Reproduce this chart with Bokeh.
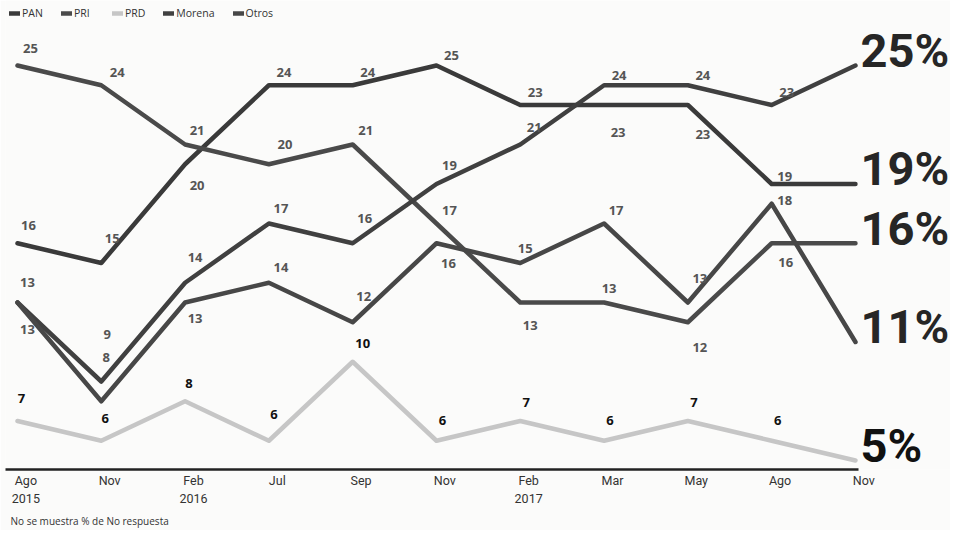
from bokeh.plotting import figure
from bokeh.models import (ColumnDataSource, FixedTicker, Legend, LegendItem, Title, Range1d,
                          LinearAxis)
from bokeh.core.properties import value
from bokeh.embed import file_html
from bokeh.resources import INLINE

# ---- data ----
months = ["Ago\n2015", "Nov", "Feb\n2016", "Jul", "Sep", "Nov", "Feb\n2017", "Mar", "May", "Ago", "Nov"]
pan = [16, 15, 20, 24, 24, 25, 23, 23, 23, 19, 19]
pri = [25, 24, 21, 20, 21, 17, 13, 13, 12, 16, 16]
prd = [7, 6, 8, 6, 10, 6, 7, 6, 7, 6, 5]
morena = [13, 9, 14, 17, 16, 19, 21, 24, 24, 23, 25]
otros = [13, 8, 13, 14, 12, 16, 15, 17, 13, 18, 11]
series_names = ["PAN", "PRI", "PRD", "Morena", "Otros"]
footnote = "No se muestra % de No respuesta"

# ---- styles (label offsets in screen px) ----
colors = {"PAN": "#3a3a3a", "PRI": "#4a4a4a", "PRD": "#c6c6c6", "Morena": "#404040", "Otros": "#474747"}
label_dx = {
    "PAN": [11, 11, 12, 15, 15, 15, 15, 14, 15, 13],
    "PRI": [13, 16, 12, 16, 13, 13, 10, 5, 12, 14],
    "PRD": [4, 4, 4, 5, 10, 6, 6, 6, 6, 6],
    "Morena": [10, 6, 10, 12, 12, 13, 14, 15, 15, 15],
    "Otros": [10, 5, 10, 12, 11, 12, 5, 12, 12, 13],
}
label_dy = {
    "PAN": [-18, -24, 21, -13, -13, -10, -12, 28, 30, -7],
    "PRI": [-17, -13, -14, -20, -14, -13, 23, -14, 25, 19],
    "PRD": [-22, -22, -18, -26, -18, -20, -18, -20, -18, -20],
    "Morena": [-20, -47, -25, -15, -25, -18, -17, -10, -10, -12],
    "Otros": [27, -44, 16, -15, -26, 20, -14, -13, -24, -3],
}

data = {"PAN": pan, "PRI": pri, "PRD": prd, "Morena": morena, "Otros": otros}
x = list(range(len(months)))

X0, X1 = -0.143, 11.134
SHIFT = 0.1  # tick labels start at the month position (left-aligned look)
p = figure(frame_width=945, frame_height=469, output_backend="svg", toolbar_location=None,
           x_range=Range1d(X0, X1), y_range=Range1d(4.544, 28.291),
           x_axis_location=None, y_axis_location=None,
           min_border_left=5, min_border_right=0, min_border_top=0, min_border_bottom=10,
           background_fill_color="#fbfbfa", border_fill_color="#fbfbfa",
           outline_line_color=None)
p.grid.visible = False
p.extra_x_ranges = {"lab": Range1d(X0 - SHIFT, X1 - SHIFT)}

items = []
for name in series_names:
    vals = data[name]
    r = p.line(x, vals, line_width=4.5, line_color=colors[name], line_join="round", line_cap="round")
    items.append(LegendItem(label=name, renderers=[r]))

for name in series_names:
    vals = data[name]
    src = ColumnDataSource(dict(x=x[:-1], y=vals[:-1], t=[str(v) for v in vals[:-1]],
                                dx=label_dx[name], dy=label_dy[name]))
    is_prd = name == "PRD"
    p.text(x="x", y="y", text="t", x_offset="dx", y_offset="dy", source=src,
           text_align="center", text_baseline="middle",
           text_font=value("Open Sans"), text_font_style="bold", text_font_size="13px",
           text_color="#111111" if is_prd else "#555555")

end_src = ColumnDataSource(dict(
    x=[x[-1]] * len(series_names),
    y=[data[n][-1] for n in series_names],
    t=[f"{data[n][-1]}%" for n in series_names],
    c=["#111111" if n == "PRD" else "#262626" for n in series_names],
))
p.text(x="x", y="y", text="t", source=end_src, x_offset=5, y_offset=-15,
       text_align="left", text_baseline="alphabetic",
       text_font=value("Roboto"), text_font_style="bold",
       text_font_size="47px", text_color="c")

legend = Legend(items=items, orientation="horizontal", location=(4, 449),
                label_text_font="Open Sans", label_text_font_size="10.5px",
                label_text_color="#333333", glyph_width=11, glyph_height=8,
                label_standoff=2, spacing=18, padding=0, margin=0,
                border_line_color=None, background_fill_alpha=0)
p.add_layout(legend)

ax = LinearAxis(x_range_name="lab")
ax.ticker = FixedTicker(ticks=x)
ax.bounds = (X0 - SHIFT, x[-1] + 0.036 - SHIFT)
ax.major_label_overrides = {i: m for i, m in zip(x, months)}
ax.major_label_text_font = "Roboto"
ax.major_label_text_font_size = "12.5px"
ax.major_label_text_color = "#333333"
ax.major_label_standoff = -3
ax.major_tick_line_color = None
ax.minor_tick_line_color = None
ax.axis_line_color = "#222222"
ax.axis_line_width = 2.5
p.add_layout(ax, "below")

p.add_layout(Title(text=footnote, text_font="Open Sans", text_font_size="10px",
                   text_font_style="normal", text_color="#333333", align="left",
                   offset=5, standoff=6), "below")

open("out.html", "w").write(file_html(p, INLINE))
